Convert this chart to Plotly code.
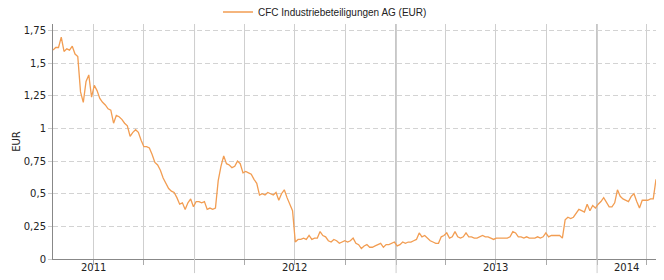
import pandas as pd
import plotly.graph_objects as go

series_name = "CFC Industriebeteiligungen AG (EUR)"
start_date = "2011-04-19"
step_days = 5
prices = [
    1.60, 1.62, 1.62, 1.70, 1.59, 1.61, 1.60, 1.63, 1.57, 1.55,
    1.28, 1.20, 1.36, 1.41, 1.24, 1.33, 1.29, 1.23, 1.20, 1.18,
    1.15, 1.14, 1.04, 1.10, 1.09, 1.07, 1.04, 1.02, 0.94, 0.97,
    0.99, 0.97, 0.91, 0.86, 0.86, 0.85, 0.80, 0.74, 0.72, 0.68,
    0.62, 0.58, 0.54, 0.52, 0.51, 0.47, 0.42, 0.43, 0.38, 0.43,
    0.46, 0.40, 0.44, 0.44, 0.43, 0.44, 0.38, 0.39, 0.38, 0.39,
    0.60, 0.71, 0.79, 0.73, 0.72, 0.70, 0.71, 0.75, 0.73, 0.66,
    0.67, 0.66, 0.65, 0.61, 0.58, 0.49, 0.50, 0.49, 0.51, 0.50,
    0.49, 0.51, 0.45, 0.50, 0.53, 0.47, 0.42, 0.37, 0.13, 0.15,
    0.15, 0.16, 0.15, 0.18, 0.15, 0.16, 0.16, 0.21, 0.18, 0.17,
    0.14, 0.13, 0.15, 0.14, 0.12, 0.13, 0.14, 0.13, 0.14, 0.16,
    0.12, 0.11, 0.08, 0.10, 0.11, 0.09, 0.09, 0.10, 0.11, 0.12,
    0.09, 0.11, 0.11, 0.12, 0.13, 0.10, 0.11, 0.13, 0.12, 0.13,
    0.13, 0.14, 0.15, 0.20, 0.17, 0.18, 0.16, 0.14, 0.13, 0.12,
    0.12, 0.17, 0.18, 0.20, 0.16, 0.17, 0.21, 0.17, 0.16, 0.17,
    0.20, 0.17, 0.17, 0.16, 0.16, 0.17, 0.18, 0.17, 0.17, 0.16,
    0.15, 0.16, 0.16, 0.16, 0.16, 0.16, 0.17, 0.21, 0.20, 0.17,
    0.17, 0.16, 0.17, 0.16, 0.16, 0.16, 0.17, 0.16, 0.17, 0.20,
    0.17, 0.18, 0.18, 0.18, 0.18, 0.16, 0.30, 0.32, 0.31, 0.32,
    0.35, 0.38, 0.37, 0.36, 0.42, 0.37, 0.41, 0.39, 0.42, 0.44,
    0.47, 0.43, 0.40, 0.40, 0.43, 0.53, 0.48, 0.46, 0.45, 0.44,
    0.48, 0.50, 0.44, 0.39, 0.45, 0.45, 0.45, 0.46, 0.46, 0.61,
]
dates = pd.date_range(start_date, periods=len(prices), freq=f"{step_days}D")

y_tick_vals = [0, 0.25, 0.5, 0.75, 1, 1.25, 1.5, 1.75]
y_tick_text = ["0", "0,25", "0,5", "0,75", "1", "1,25", "1,5", "1,75"]
year_labels = ["2011", "2012", "2013", "2014"]

x_start = dates[0]
x_end = dates[-1]

fig = go.Figure()
fig.add_trace(go.Scatter(
    x=dates, y=prices, mode="lines", name=series_name,
    line=dict(color="#F29D52", width=1.3),
))

FONT = "DejaVu Sans"
fig.update_layout(
    width=664, height=280,
    margin=dict(l=53, r=8, t=24, b=21, autoexpand=False),
    paper_bgcolor="white", plot_bgcolor="white",
    showlegend=True,
    legend=dict(
        orientation="h", x=0.2736, xanchor="left", y=1.051, yanchor="middle",
        font=dict(family="Liberation Sans", size=10, color="#222"),
        bgcolor="rgba(0,0,0,0)", itemwidth=30,
    ),
    font=dict(family=FONT, size=10, color="#222"),
)

fig.update_xaxes(
    type="date", range=[x_start, x_end],
    showgrid=True, gridcolor="#cfcfcf", gridwidth=1,
    dtick="M3", tick0="2011-01-01",
    showticklabels=False, ticks="outside", ticklen=5, tickcolor="#aaaaaa",
    showline=True, linecolor="#888888", linewidth=1,
    zeroline=False,
)
fig.update_yaxes(
    range=[0, 1.80],
    tickvals=y_tick_vals, ticktext=y_tick_text,
    showgrid=True, gridcolor="#d3d3d3", griddash="5px,3px", gridwidth=1,
    ticks="outside", ticklen=4, tickcolor="#cccccc",
    showline=True, linecolor="#888888", linewidth=1,
    zeroline=False,
    title=dict(text="EUR", standoff=1, font=dict(family=FONT, size=10)),
    tickfont=dict(family=FONT, size=10, color="#222"),
)

# year separator lines
for yl in year_labels:
    d = pd.Timestamp(f"{yl}-01-01")
    if x_start < d < x_end:
        fig.add_shape(type="line", xref="x", yref="paper", x0=d, x1=d, y0=0, y1=1,
                      line=dict(color="#7a7a7a", width=1), layer="between")
        fig.add_shape(type="line", xref="x", yref="paper", x0=d, x1=d, y0=0, y1=-0.06,
                      line=dict(color="#cccccc", width=1))

# year labels
for yl in year_labels:
    mid = pd.Timestamp(f"{yl}-07-01")
    if mid > x_end:
        ys = pd.Timestamp(f"{yl}-01-01")
        mid = ys + (x_end - ys) / 2
    fig.add_annotation(x=mid, xref="x", y=-0.038, yref="paper", text=yl,
                       showarrow=False, yanchor="middle", xanchor="center",
                       font=dict(family=FONT, size=10, color="#222"))

fig.write_html("out.html")
